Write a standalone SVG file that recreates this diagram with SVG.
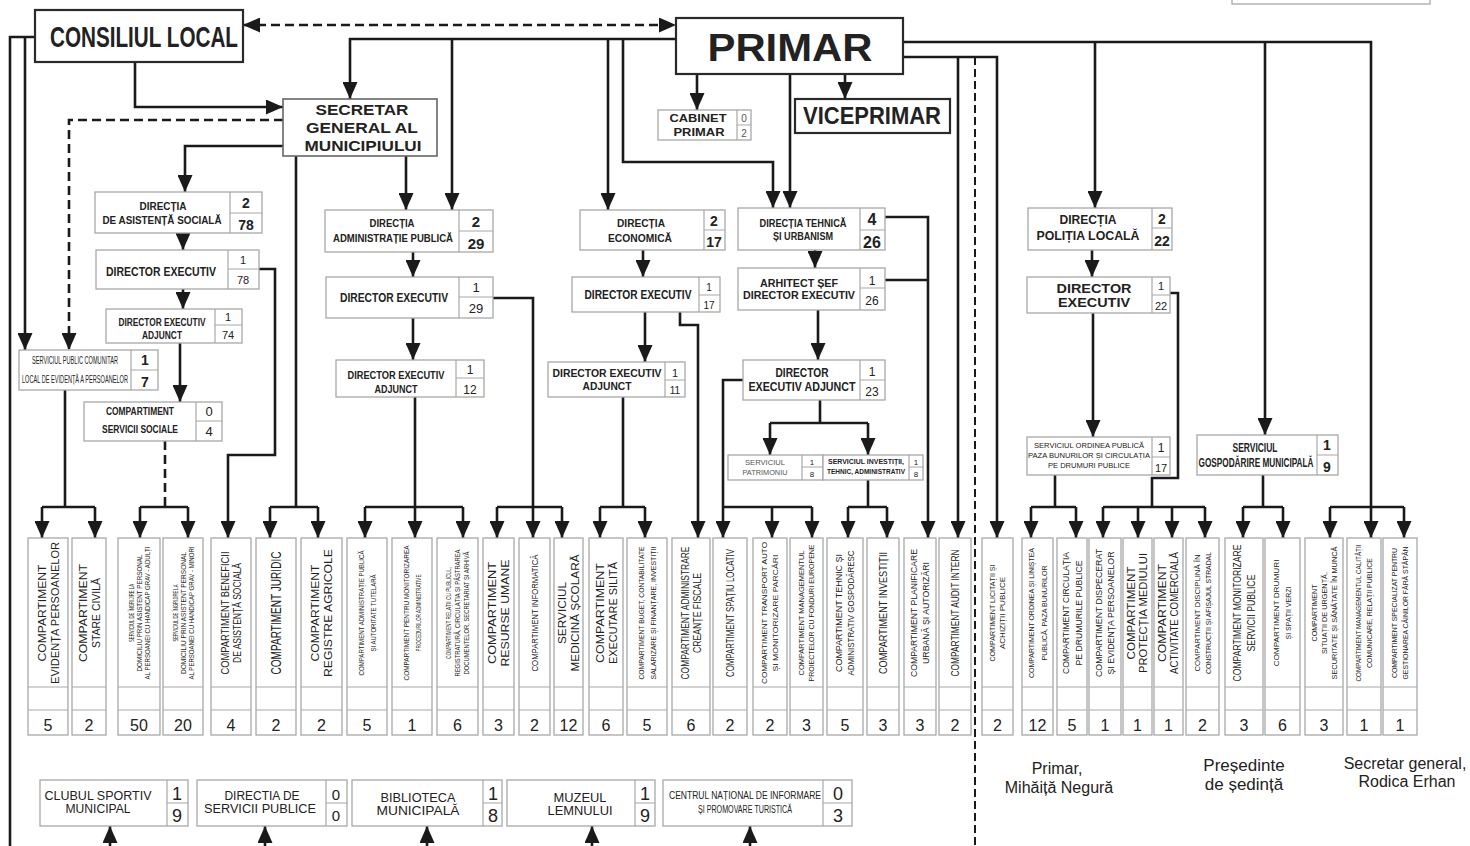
<svg xmlns="http://www.w3.org/2000/svg" width="1470" height="846" viewBox="0 0 1470 846">
<style>
.b{fill:#fff;stroke:#a8a8a8;stroke-width:1.3}
.k{fill:#fff;stroke:#2a2a2a;stroke-width:2.2}
.s{stroke:#a8a8a8;stroke-width:1.2;fill:none}
#connectors path{fill:none;stroke:#1a1a1a;stroke-width:2.6}
#connectors path.d{stroke-dasharray:9 5}
#connectors path.t{stroke-width:2;stroke-dasharray:8 4}
text{font-family:'Liberation Sans',Arial,sans-serif;fill:#222;text-anchor:middle}
.bd{font-weight:bold}
.g{fill:#555}
</style>
<defs>
<marker id="a" viewBox="0 0 17 15" refX="17" refY="7.5" markerWidth="17" markerHeight="15" markerUnits="userSpaceOnUse" orient="auto-start-reverse"><path d="M0,0 L17,7.5 L0,15 z" fill="#1a1a1a"/></marker>
</defs>
<rect width="1470" height="846" fill="#fff"/>
<rect class="b" x="1232" y="-6" width="198" height="10"/>

<g id="connectors">
<path class="d" d="M243,25 H676" marker-start="url(#a)" marker-end="url(#a)"/>
<path d="M676,39 H350 V99" marker-end="url(#a)"/>
<path d="M452,39 V210" marker-end="url(#a)"/>
<path d="M608,39 V210" marker-end="url(#a)"/>
<path d="M623,39 V162 H773 V208" marker-end="url(#a)"/>
<path d="M697,74 V110" marker-end="url(#a)"/>
<path d="M845,74 V99" marker-end="url(#a)"/>
<path d="M790,74 V208" marker-end="url(#a)"/>
<path d="M903,42 H1371 V507"/>
<path d="M1095,42 V208" marker-end="url(#a)"/>
<path d="M1265,42 V435" marker-end="url(#a)"/>
<path d="M903,57 H997 V538" marker-end="url(#a)"/>
<path d="M958,57 V538" marker-end="url(#a)"/>
<path class="t" d="M975,57 V846"/>
<path d="M35,37 H10 V846"/>
<path d="M25,37 V350" marker-end="url(#a)"/>
<path d="M135,62 V107 H283" marker-end="url(#a)"/>
<path class="d" d="M283,120 H69 V350" marker-end="url(#a)"/>
<path d="M283,146 H185 V192" marker-end="url(#a)"/>
<path d="M296,156 V507"/><path d="M270,507 H318"/>
<path d="M270,507 V538" marker-end="url(#a)"/><path d="M318,507 V538" marker-end="url(#a)"/>
<path d="M406,156 V210" marker-end="url(#a)"/>
<path d="M183,233 V250" marker-end="url(#a)"/>
<path d="M183,289 V309" marker-end="url(#a)"/>
<path d="M259,269 H275 V455 H228 V538" marker-end="url(#a)"/>
<path d="M180,343 V402" marker-end="url(#a)"/>
<path d="M65,390 V507"/><path d="M42,507 H95"/>
<path d="M42,507 V538" marker-end="url(#a)"/><path d="M95,507 V538" marker-end="url(#a)"/>
<path class="d" d="M165,441 V507"/><path d="M140,507 H188"/>
<path d="M140,507 V538" marker-end="url(#a)"/><path d="M188,507 V538" marker-end="url(#a)"/>
<path d="M413,252 V277" marker-end="url(#a)"/>
<path d="M413,318 V360" marker-end="url(#a)"/>
<path d="M415,397 V538" marker-end="url(#a)"/><path d="M365,507 H463"/>
<path d="M365,507 V538" marker-end="url(#a)"/><path d="M463,507 V538" marker-end="url(#a)"/>
<path d="M493,298 H533 V538" marker-end="url(#a)"/><path d="M497,507 H562"/>
<path d="M497,507 V538" marker-end="url(#a)"/><path d="M562,507 V538" marker-end="url(#a)"/>
<path d="M643,250 V277" marker-end="url(#a)"/>
<path d="M645,312 V362" marker-end="url(#a)"/>
<path d="M623,397 V507"/><path d="M600,507 H645"/>
<path d="M600,507 V538" marker-end="url(#a)"/><path d="M645,507 V538" marker-end="url(#a)"/>
<path d="M680,312 V325 H698 V538" marker-end="url(#a)"/>
<path d="M885,217 H928 V538" marker-end="url(#a)"/>
<path d="M885,280 H928"/>
<path d="M815,250 V268" marker-end="url(#a)"/>
<path d="M818,310 V360" marker-end="url(#a)"/>
<path d="M820,400 V423"/><path d="M770,423 H868"/>
<path d="M770,423 V455" marker-end="url(#a)"/><path d="M868,423 V455" marker-end="url(#a)"/>
<path d="M743,380 H723 V538" marker-end="url(#a)"/><path d="M723,507 H812"/>
<path d="M772,507 V538" marker-end="url(#a)"/><path d="M812,507 V538" marker-end="url(#a)"/>
<path d="M868,480 V507"/><path d="M848,507 H887"/>
<path d="M848,507 V538" marker-end="url(#a)"/><path d="M887,507 V538" marker-end="url(#a)"/>
<path d="M1092,250 V277" marker-end="url(#a)"/>
<path d="M1093,313 V437" marker-end="url(#a)"/>
<path d="M1055,475 V507"/><path d="M1031,507 H1076"/>
<path d="M1031,507 V538" marker-end="url(#a)"/><path d="M1076,507 V538" marker-end="url(#a)"/>
<path d="M1170,293 H1178 V478 H1152 V507"/><path d="M1103,507 H1205"/>
<path d="M1103,507 V538" marker-end="url(#a)"/><path d="M1138,507 V538" marker-end="url(#a)"/>
<path d="M1172,507 V538" marker-end="url(#a)"/><path d="M1205,507 V538" marker-end="url(#a)"/>
<path d="M1263,475 V507"/><path d="M1243,507 H1283"/>
<path d="M1243,507 V538" marker-end="url(#a)"/><path d="M1283,507 V538" marker-end="url(#a)"/>
<path d="M1330,507 H1404"/>
<path d="M1330,507 V538" marker-end="url(#a)"/><path d="M1371,507 V538" marker-end="url(#a)"/><path d="M1404,507 V538" marker-end="url(#a)"/>
<path d="M110,846 V826" marker-end="url(#a)"/>
<path d="M265,846 V826" marker-end="url(#a)"/>
<path d="M427,846 V826" marker-end="url(#a)"/>
<path d="M592,846 V826" marker-end="url(#a)"/>
<path d="M750,846 V826" marker-end="url(#a)"/>
</g>

<g id="consiliul"><rect class="k" x="35" y="10" width="208" height="52"/>
<text class="bd" x="144" y="47" font-size="30" textLength="188" lengthAdjust="spacingAndGlyphs">CONSILIUL LOCAL</text></g>
<g id="primar"><rect class="k" x="676" y="18" width="227" height="56"/>
<text class="bd" x="790" y="61" font-size="38" textLength="165" lengthAdjust="spacingAndGlyphs">PRIMAR</text></g>
<g id="viceprimar"><rect class="k" x="795" y="99" width="155" height="34"/>
<text class="bd" x="872" y="124" font-size="24" textLength="138" lengthAdjust="spacingAndGlyphs">VICEPRIMAR</text></g>
<g id="cabinet"><rect class="b" x="658" y="110" width="93" height="30"/><path class="s" d="M737,110 V140 M737,125 H751"/>
<text class="bd" x="698" y="122" font-size="11" textLength="57" lengthAdjust="spacingAndGlyphs">CABINET</text>
<text class="bd" x="699" y="136" font-size="11" textLength="51" lengthAdjust="spacingAndGlyphs">PRIMAR</text>
<text class="g" x="744" y="122" font-size="10">0</text><text class="g" x="744" y="137" font-size="10">2</text></g>
<g id="secretar"><rect class="b" x="283" y="99" width="154" height="57" style="stroke:#666;stroke-width:1.6"/>
<text class="bd" x="362" y="115" font-size="15.5" textLength="93" lengthAdjust="spacingAndGlyphs">SECRETAR</text>
<text class="bd" x="362" y="133" font-size="15.5" textLength="112" lengthAdjust="spacingAndGlyphs">GENERAL AL</text>
<text class="bd" x="363" y="151" font-size="15.5" textLength="117" lengthAdjust="spacingAndGlyphs">MUNICIPIULUI</text></g>

<g id="das"><rect class="b" x="95" y="192" width="167" height="41"/><path class="s" d="M230,192 V233 M230,213 H262"/>
<text class="bd" x="163" y="210" font-size="11" textLength="47" lengthAdjust="spacingAndGlyphs">DIRECȚIA</text>
<text class="bd" x="162" y="224" font-size="11" textLength="119" lengthAdjust="spacingAndGlyphs">DE ASISTENȚĂ SOCIALĂ</text>
<text class="bd" x="246" y="208" font-size="14">2</text><text class="bd" x="246" y="230" font-size="14">78</text></g>
<g id="de1"><rect class="b" x="96" y="250" width="163" height="39"/><path class="s" d="M228,250 V289 M228,269 H259"/>
<text class="bd" x="161" y="276" font-size="13" textLength="110" lengthAdjust="spacingAndGlyphs">DIRECTOR EXECUTIV</text>
<text x="243" y="264" font-size="11">1</text><text x="243" y="284" font-size="11">78</text></g>
<g id="dea1"><rect class="b" x="106" y="309" width="136" height="34"/><path class="s" d="M215,309 V343 M215,325 H242"/>
<text class="bd" x="162" y="326" font-size="10" textLength="87" lengthAdjust="spacingAndGlyphs">DIRECTOR EXECUTIV</text>
<text class="bd" x="162" y="339" font-size="10" textLength="40" lengthAdjust="spacingAndGlyphs">ADJUNCT</text>
<text x="228" y="321" font-size="11">1</text><text x="228" y="339" font-size="11">74</text></g>
<g id="spc"><rect class="b" x="19" y="350" width="139" height="40"/><path class="s" d="M131,350 V390 M131,370 H158"/>
<text x="75" y="364" font-size="10" textLength="86" lengthAdjust="spacingAndGlyphs">SERVICIUL PUBLIC COMUNITAR</text>
<text x="75" y="383" font-size="10" textLength="106" lengthAdjust="spacingAndGlyphs">LOCAL DE EVIDENȚĂ A PERSOANELOR</text>
<text class="bd" x="145" y="365" font-size="14">1</text><text class="bd" x="145" y="387" font-size="14">7</text></g>
<g id="css"><rect class="b" x="84" y="402" width="138" height="39"/><path class="s" d="M196,402 V441 M196,421 H222"/>
<text class="bd" x="140" y="415" font-size="11" textLength="68" lengthAdjust="spacingAndGlyphs">COMPARTIMENT</text>
<text class="bd" x="140" y="433" font-size="11" textLength="76" lengthAdjust="spacingAndGlyphs">SERVICII SOCIALE</text>
<text x="209" y="416" font-size="13">0</text><text x="209" y="436" font-size="13">4</text></g>

<g id="dap"><rect class="b" x="325" y="210" width="168" height="42"/><path class="s" d="M459,210 V252 M459,231 H493"/>
<text class="bd" x="392" y="227" font-size="11" textLength="45" lengthAdjust="spacingAndGlyphs">DIRECȚIA</text>
<text class="bd" x="393" y="242" font-size="11" textLength="120" lengthAdjust="spacingAndGlyphs">ADMINISTRAȚIE PUBLICĂ</text>
<text class="bd" x="476" y="227" font-size="15">2</text><text class="bd" x="476" y="249" font-size="15">29</text></g>
<g id="de2"><rect class="b" x="326" y="277" width="167" height="41"/><path class="s" d="M459,277 V318 M459,297 H493"/>
<text class="bd" x="394" y="302" font-size="13" textLength="108" lengthAdjust="spacingAndGlyphs">DIRECTOR EXECUTIV</text>
<text x="476" y="292" font-size="13">1</text><text x="476" y="313" font-size="13">29</text></g>
<g id="dea2"><rect class="b" x="336" y="360" width="148" height="37"/><path class="s" d="M456,360 V397 M456,378 H484"/>
<text class="bd" x="396" y="379" font-size="11" textLength="97" lengthAdjust="spacingAndGlyphs">DIRECTOR EXECUTIV</text>
<text class="bd" x="396" y="393" font-size="11" textLength="43" lengthAdjust="spacingAndGlyphs">ADJUNCT</text>
<text x="470" y="374" font-size="12">1</text><text x="470" y="394" font-size="12">12</text></g>

<g id="dec"><rect class="b" x="580" y="210" width="145" height="40"/><path class="s" d="M704,210 V250 M704,230 H725"/>
<text class="bd" x="641" y="227" font-size="11" textLength="48" lengthAdjust="spacingAndGlyphs">DIRECȚIA</text>
<text class="bd" x="640" y="242" font-size="11" textLength="64" lengthAdjust="spacingAndGlyphs">ECONOMICĂ</text>
<text class="bd" x="714" y="226" font-size="14">2</text><text class="bd" x="714" y="247" font-size="14">17</text></g>
<g id="de3"><rect class="b" x="572" y="277" width="148" height="35"/><path class="s" d="M699,277 V312 M699,295 H720"/>
<text class="bd" x="638" y="299" font-size="12" textLength="107" lengthAdjust="spacingAndGlyphs">DIRECTOR EXECUTIV</text>
<text x="709" y="291" font-size="10">1</text><text x="709" y="309" font-size="10">17</text></g>
<g id="dea3"><rect class="b" x="548" y="362" width="137" height="35"/><path class="s" d="M665,362 V397 M665,380 H685"/>
<text class="bd" x="607" y="377" font-size="11" textLength="109" lengthAdjust="spacingAndGlyphs">DIRECTOR EXECUTIV</text>
<text class="bd" x="607" y="390" font-size="11" textLength="49" lengthAdjust="spacingAndGlyphs">ADJUNCT</text>
<text x="675" y="377" font-size="11">1</text><text x="675" y="394" font-size="10">11</text></g>

<g id="dtu"><rect class="b" x="738" y="208" width="147" height="42"/><path class="s" d="M860,208 V250 M860,230 H885"/>
<text class="bd" x="803" y="227" font-size="11" textLength="87" lengthAdjust="spacingAndGlyphs">DIRECȚIA TEHNICĂ</text>
<text class="bd" x="803" y="240" font-size="11" textLength="60" lengthAdjust="spacingAndGlyphs">ȘI URBANISM</text>
<text class="bd" x="872" y="225" font-size="16">4</text><text class="bd" x="872" y="248" font-size="16">26</text></g>
<g id="asde"><rect class="b" x="738" y="268" width="147" height="42"/><path class="s" d="M860,268 V310 M860,288 H885"/>
<text class="bd" x="799" y="287" font-size="11" textLength="78" lengthAdjust="spacingAndGlyphs">ARHITECT ȘEF</text>
<text class="bd" x="799" y="299" font-size="11" textLength="112" lengthAdjust="spacingAndGlyphs">DIRECTOR EXECUTIV</text>
<text x="872" y="285" font-size="12">1</text><text x="872" y="305" font-size="12">26</text></g>
<g id="dea4"><rect class="b" x="743" y="360" width="142" height="40"/><path class="s" d="M860,360 V400 M860,380 H885"/>
<text class="bd" x="802" y="377" font-size="12" textLength="53" lengthAdjust="spacingAndGlyphs">DIRECTOR</text>
<text class="bd" x="802" y="391" font-size="12" textLength="107" lengthAdjust="spacingAndGlyphs">EXECUTIV ADJUNCT</text>
<text x="872" y="376" font-size="12">1</text><text x="872" y="396" font-size="12">23</text></g>
<g id="spat"><rect class="b" x="728" y="455" width="95" height="25"/><path class="s" d="M802,455 V480 M802,467 H823"/>
<text class="g" x="765" y="465" font-size="8" textLength="40" lengthAdjust="spacingAndGlyphs">SERVICIUL</text>
<text class="g" x="765" y="475" font-size="8" textLength="45" lengthAdjust="spacingAndGlyphs">PATRIMONIU</text>
<text x="812" y="465" font-size="8">1</text><text x="812" y="477" font-size="8">8</text></g>
<g id="sita"><rect class="b" x="823" y="455" width="100" height="25"/><path class="s" d="M909,455 V480 M909,467 H923"/>
<text class="bd" x="866" y="464" font-size="7" textLength="76" lengthAdjust="spacingAndGlyphs">SERVICIUL INVESTIȚII,</text>
<text class="bd" x="866" y="474" font-size="7" textLength="78" lengthAdjust="spacingAndGlyphs">TEHNIC, ADMINISTRATIV</text>
<text x="916" y="465" font-size="8">1</text><text x="916" y="477" font-size="8">8</text></g>

<g id="dpl"><rect class="b" x="1028" y="208" width="144" height="42"/><path class="s" d="M1152,208 V250 M1152,228 H1172"/>
<text class="bd" x="1088" y="224" font-size="13" textLength="57" lengthAdjust="spacingAndGlyphs">DIRECȚIA</text>
<text class="bd" x="1088" y="240" font-size="13" textLength="103" lengthAdjust="spacingAndGlyphs">POLIȚIA LOCALĂ</text>
<text class="bd" x="1162" y="224" font-size="14">2</text><text class="bd" x="1162" y="246" font-size="14">22</text></g>
<g id="de5"><rect class="b" x="1027" y="277" width="143" height="36"/><path class="s" d="M1152,277 V313 M1152,295 H1170"/>
<text class="bd" x="1094" y="293" font-size="13" textLength="75" lengthAdjust="spacingAndGlyphs">DIRECTOR</text>
<text class="bd" x="1094" y="307" font-size="13" textLength="72" lengthAdjust="spacingAndGlyphs">EXECUTIV</text>
<text x="1161" y="290" font-size="11">1</text><text x="1161" y="310" font-size="11">22</text></g>
<g id="sop"><rect class="b" x="1027" y="437" width="143" height="38"/><path class="s" d="M1152,437 V475 M1152,457 H1170"/>
<text x="1089" y="448" font-size="8" textLength="110" lengthAdjust="spacingAndGlyphs">SERVICIUL ORDINEA PUBLICĂ</text>
<text x="1089" y="458" font-size="8" textLength="122" lengthAdjust="spacingAndGlyphs">PAZA BUNURILOR ȘI CIRCULAȚIA</text>
<text x="1089" y="468" font-size="8" textLength="82" lengthAdjust="spacingAndGlyphs">PE DRUMURI PUBLICE</text>
<text x="1161" y="452" font-size="12">1</text><text x="1161" y="472" font-size="11">17</text></g>
<g id="sgm"><rect class="b" x="1197" y="435" width="141" height="40"/><path class="s" d="M1317,435 V475 M1317,455 H1338"/>
<text class="bd" x="1255" y="452" font-size="12" textLength="45" lengthAdjust="spacingAndGlyphs">SERVICIUL</text>
<text class="bd" x="1256" y="467" font-size="12" textLength="115" lengthAdjust="spacingAndGlyphs">GOSPODĂRIRE MUNICIPALĂ</text>
<text class="bd" x="1327" y="450" font-size="14">1</text><text class="bd" x="1327" y="472" font-size="14">9</text></g>

<g id="csm"><rect class="b" x="40" y="780" width="148" height="46"/><path class="s" d="M167,780 V826 M167,803 H188"/>
<text x="98" y="800" font-size="12" textLength="107" lengthAdjust="spacingAndGlyphs">CLUBUL SPORTIV</text>
<text x="98" y="813" font-size="12" textLength="65" lengthAdjust="spacingAndGlyphs">MUNICIPAL</text>
<text x="177" y="800" font-size="18">1</text><text x="177" y="822" font-size="18">9</text></g>
<g id="dsp"><rect class="b" x="197" y="780" width="150" height="46"/><path class="s" d="M326,780 V826 M326,803 H347"/>
<text x="262" y="800" font-size="12" textLength="75" lengthAdjust="spacingAndGlyphs">DIRECTIA DE</text>
<text x="260" y="813" font-size="12" textLength="112" lengthAdjust="spacingAndGlyphs">SERVICII PUBLICE</text>
<text x="336" y="800" font-size="15">0</text><text x="336" y="821" font-size="15">0</text></g>
<g id="bm"><rect class="b" x="352" y="780" width="150" height="46"/><path class="s" d="M483,780 V826 M483,803 H502"/>
<text x="418" y="802" font-size="13" textLength="75" lengthAdjust="spacingAndGlyphs">BIBLIOTECA</text>
<text x="418" y="815" font-size="13" textLength="83" lengthAdjust="spacingAndGlyphs">MUNICIPALĂ</text>
<text x="493" y="800" font-size="18">1</text><text x="493" y="822" font-size="18">8</text></g>
<g id="ml"><rect class="b" x="507" y="780" width="148" height="46"/><path class="s" d="M635,780 V826 M635,803 H655"/>
<text x="580" y="802" font-size="13" textLength="53" lengthAdjust="spacingAndGlyphs">MUZEUL</text>
<text x="580" y="815" font-size="13" textLength="65" lengthAdjust="spacingAndGlyphs">LEMNULUI</text>
<text x="645" y="800" font-size="18">1</text><text x="645" y="822" font-size="18">9</text></g>
<g id="cni"><rect class="b" x="663" y="780" width="189" height="46"/><path class="s" d="M823,780 V826 M823,803 H852"/>
<text x="745" y="799" font-size="10" textLength="152" lengthAdjust="spacingAndGlyphs">CENTRUL NAȚIONAL DE INFORMARE</text>
<text x="745" y="813" font-size="10" textLength="94" lengthAdjust="spacingAndGlyphs">ȘI PROMOVARE TURISTICĂ</text>
<text x="838" y="800" font-size="18">0</text><text x="838" y="822" font-size="18">3</text></g>

<g id="bottom-boxes">
<g id="c1"><rect class="b" x="28" y="538" width="40" height="197"/><path class="s" d="M28,687 H68 M28,710 H68"/>
<text transform="translate(45.6,613) rotate(-90)" font-size="11.5" textLength="97" lengthAdjust="spacingAndGlyphs">COMPARTIMENT</text>
<text transform="translate(58.6,613) rotate(-90)" font-size="11.5" textLength="142" lengthAdjust="spacingAndGlyphs">EVIDENȚA PERSOANELOR</text>
<text x="48" y="731" font-size="16">5</text></g>
<g id="c2"><rect class="b" x="72" y="538" width="34" height="197"/><path class="s" d="M72,687 H106 M72,710 H106"/>
<text transform="translate(86.6,613) rotate(-90)" font-size="11.5" textLength="98" lengthAdjust="spacingAndGlyphs">COMPARTIMENT</text>
<text transform="translate(99.6,613) rotate(-90)" font-size="11.5" textLength="70" lengthAdjust="spacingAndGlyphs">STARE CIVILĂ</text>
<text x="89" y="731" font-size="16">2</text></g>
<g id="c3"><rect class="b" x="118" y="538" width="42" height="197"/><path class="s" d="M118,687 H160 M118,710 H160"/>
<text transform="translate(133.5,613) rotate(-90)" font-size="7" textLength="58" lengthAdjust="spacingAndGlyphs">SERVICIUL DE ÎNGRIJIRE LA</text>
<text transform="translate(141.5,613) rotate(-90)" font-size="7" textLength="117" lengthAdjust="spacingAndGlyphs">DOMICILIU PRIN ASISTENT PERSONAL</text>
<text transform="translate(149.5,613) rotate(-90)" font-size="7" textLength="133" lengthAdjust="spacingAndGlyphs">AL PERSOANEI CU HANDICAP GRAV - ADULȚI</text>
<text x="139" y="731" font-size="16">50</text></g>
<g id="c4"><rect class="b" x="163" y="538" width="40" height="197"/><path class="s" d="M163,687 H203 M163,710 H203"/>
<text transform="translate(177.5,613) rotate(-90)" font-size="7" textLength="57" lengthAdjust="spacingAndGlyphs">SERVICIUL DE ÎNGRIJIRE LA</text>
<text transform="translate(185.5,613) rotate(-90)" font-size="7" textLength="122" lengthAdjust="spacingAndGlyphs">DOMICILIU PRIN ASISTENT PERSONAL</text>
<text transform="translate(193.5,613) rotate(-90)" font-size="7" textLength="133" lengthAdjust="spacingAndGlyphs">AL PERSOANEI CU HANDICAP GRAV - MINORI</text>
<text x="183" y="731" font-size="16">20</text></g>
<g id="c5"><rect class="b" x="211" y="538" width="40" height="197"/><path class="s" d="M211,687 H251 M211,710 H251"/>
<text transform="translate(228.6,613) rotate(-90)" font-size="10" textLength="123" lengthAdjust="spacingAndGlyphs">COMPARTIMENT BENEFICII</text>
<text transform="translate(240.6,613) rotate(-90)" font-size="10" textLength="100" lengthAdjust="spacingAndGlyphs">DE ASISTENȚĂ SOCIALĂ</text>
<text x="231" y="731" font-size="16">4</text></g>
<g id="c6"><rect class="b" x="256" y="538" width="40" height="197"/><path class="s" d="M256,687 H296 M256,710 H296"/>
<text transform="translate(281,613) rotate(-90)" font-size="14" textLength="123" lengthAdjust="spacingAndGlyphs">COMPARTIMENT JURIDIC</text>
<text x="276" y="731" font-size="16">2</text></g>
<g id="c7"><rect class="b" x="301" y="538" width="41" height="197"/><path class="s" d="M301,687 H342 M301,710 H342"/>
<text transform="translate(319.1,613) rotate(-90)" font-size="11.5" textLength="97" lengthAdjust="spacingAndGlyphs">COMPARTIMENT</text>
<text transform="translate(332.1,613) rotate(-90)" font-size="11.5" textLength="128" lengthAdjust="spacingAndGlyphs">REGISTRE AGRICOLE</text>
<text x="321.5" y="731" font-size="16">2</text></g>
<g id="c8"><rect class="b" x="347" y="538" width="40" height="197"/><path class="s" d="M347,687 H387 M347,710 H387"/>
<text transform="translate(363.9,613) rotate(-90)" font-size="8" textLength="125" lengthAdjust="spacingAndGlyphs">COMPARTIMENT ADMINISTRAȚIE PUBLICĂ</text>
<text transform="translate(375.9,613) rotate(-90)" font-size="8" textLength="77" lengthAdjust="spacingAndGlyphs">ȘI AUTORITATE TUTELARĂ</text>
<text x="367" y="731" font-size="16">5</text></g>
<g id="c9"><rect class="b" x="392" y="538" width="40" height="197"/><path class="s" d="M392,687 H432 M392,710 H432"/>
<text transform="translate(408.9,613) rotate(-90)" font-size="8" textLength="135" lengthAdjust="spacingAndGlyphs">COMPARTIMENT PENTRU MONITORIZAREA</text>
<text transform="translate(420.9,613) rotate(-90)" font-size="8" textLength="77" lengthAdjust="spacingAndGlyphs">PROCEDURILOR ADMINISTRATIVE</text>
<text x="412" y="731" font-size="16">1</text></g>
<g id="c10"><rect class="b" x="437" y="538" width="41" height="197"/><path class="s" d="M437,687 H478 M437,710 H478"/>
<text transform="translate(450.8,613) rotate(-90)" font-size="6.5" textLength="92" lengthAdjust="spacingAndGlyphs">COMPARTIMENT RELAȚII CU PUBLICUL,</text>
<text transform="translate(459.8,613) rotate(-90)" font-size="6.5" textLength="127" lengthAdjust="spacingAndGlyphs">REGISTRATURĂ, CIRCULAȚIA ȘI PĂSTRAREA</text>
<text transform="translate(468.8,613) rotate(-90)" font-size="6.5" textLength="123" lengthAdjust="spacingAndGlyphs">DOCUMENTELOR, SECRETARIAT ȘI ARHIVĂ</text>
<text x="457.5" y="731" font-size="16">6</text></g>
<g id="c11"><rect class="b" x="483" y="538" width="31" height="197"/><path class="s" d="M483,687 H514 M483,710 H514"/>
<text transform="translate(496.1,613) rotate(-90)" font-size="11.5" textLength="102" lengthAdjust="spacingAndGlyphs">COMPARTIMENT</text>
<text transform="translate(509.1,613) rotate(-90)" font-size="11.5" textLength="107" lengthAdjust="spacingAndGlyphs">RESURSE UMANE</text>
<text x="498.5" y="731" font-size="16">3</text></g>
<g id="c12"><rect class="b" x="519" y="538" width="31" height="197"/><path class="s" d="M519,687 H550 M519,710 H550"/>
<text transform="translate(537.9,613) rotate(-90)" font-size="9.5" textLength="117" lengthAdjust="spacingAndGlyphs">COMPARTIMENT INFORMATICĂ</text>
<text x="534.5" y="731" font-size="16">2</text></g>
<g id="c13"><rect class="b" x="554" y="538" width="29" height="197"/><path class="s" d="M554,687 H583 M554,710 H583"/>
<text transform="translate(566,613) rotate(-90)" font-size="11" textLength="62" lengthAdjust="spacingAndGlyphs">SERVICIUL</text>
<text transform="translate(579,613) rotate(-90)" font-size="11" textLength="117" lengthAdjust="spacingAndGlyphs">MEDICINĂ ȘCOLARĂ</text>
<text x="568.5" y="731" font-size="16">12</text></g>
<g id="c14"><rect class="b" x="589" y="538" width="34" height="197"/><path class="s" d="M589,687 H623 M589,710 H623"/>
<text transform="translate(603.5,613) rotate(-90)" font-size="11" textLength="100" lengthAdjust="spacingAndGlyphs">COMPARTIMENT</text>
<text transform="translate(616.5,613) rotate(-90)" font-size="11" textLength="102" lengthAdjust="spacingAndGlyphs">EXECUTARE SILITĂ</text>
<text x="606" y="731" font-size="16">6</text></g>
<g id="c15"><rect class="b" x="627" y="538" width="40" height="197"/><path class="s" d="M627,687 H667 M627,710 H667"/>
<text transform="translate(643.9,613) rotate(-90)" font-size="8" textLength="133" lengthAdjust="spacingAndGlyphs">COMPARTIMENT BUGET, CONTABILITATE</text>
<text transform="translate(655.9,613) rotate(-90)" font-size="8" textLength="133" lengthAdjust="spacingAndGlyphs">SALARIZARE ȘI FINANȚARE, INVESTIȚII</text>
<text x="647" y="731" font-size="16">5</text></g>
<g id="c16"><rect class="b" x="672" y="538" width="38" height="197"/><path class="s" d="M672,687 H710 M672,710 H710"/>
<text transform="translate(688.6,613) rotate(-90)" font-size="10" textLength="133" lengthAdjust="spacingAndGlyphs">COMPARTIMENT ADMINISTRARE</text>
<text transform="translate(700.6,613) rotate(-90)" font-size="10" textLength="80" lengthAdjust="spacingAndGlyphs">CREANȚE FISCALE</text>
<text x="691" y="731" font-size="16">6</text></g>
<g id="c17"><rect class="b" x="713" y="538" width="34" height="197"/><path class="s" d="M713,687 H747 M713,710 H747"/>
<text transform="translate(733.6,613) rotate(-90)" font-size="10" textLength="128" lengthAdjust="spacingAndGlyphs">COMPARTIMENT SPAȚIU LOCATIV</text>
<text x="730" y="731" font-size="16">2</text></g>
<g id="c18"><rect class="b" x="753" y="538" width="34" height="197"/><path class="s" d="M753,687 H787 M753,710 H787"/>
<text transform="translate(767.4,613) rotate(-90)" font-size="8" textLength="142" lengthAdjust="spacingAndGlyphs">COMPARTIMENT TRANSPORT AUTO</text>
<text transform="translate(778.4,613) rotate(-90)" font-size="8" textLength="117" lengthAdjust="spacingAndGlyphs">ȘI MONITORIZARE PARCĂRI</text>
<text x="770" y="731" font-size="16">2</text></g>
<g id="c19"><rect class="b" x="790" y="538" width="33" height="197"/><path class="s" d="M790,687 H823 M790,710 H823"/>
<text transform="translate(804,613) rotate(-90)" font-size="7" textLength="125" lengthAdjust="spacingAndGlyphs">COMPARTIMENT MANAGEMENTUL</text>
<text transform="translate(814,613) rotate(-90)" font-size="7" textLength="137" lengthAdjust="spacingAndGlyphs">PROIECTELOR CU FONDURI EUROPENE</text>
<text x="806.5" y="731" font-size="16">3</text></g>
<g id="c20"><rect class="b" x="827" y="538" width="36" height="197"/><path class="s" d="M827,687 H863 M827,710 H863"/>
<text transform="translate(842.2,613) rotate(-90)" font-size="9" textLength="118" lengthAdjust="spacingAndGlyphs">COMPARTIMENT TEHNIC ȘI</text>
<text transform="translate(854.2,613) rotate(-90)" font-size="9" textLength="125" lengthAdjust="spacingAndGlyphs">ADMINISTRATIV GOSPODĂRESC</text>
<text x="845" y="731" font-size="16">5</text></g>
<g id="c21"><rect class="b" x="867" y="538" width="32" height="197"/><path class="s" d="M867,687 H899 M867,710 H899"/>
<text transform="translate(886.6,613) rotate(-90)" font-size="10" textLength="122" lengthAdjust="spacingAndGlyphs">COMPARTIMENT INVESTIȚII</text>
<text x="883" y="731" font-size="16">3</text></g>
<g id="c22"><rect class="b" x="904" y="538" width="32" height="197"/><path class="s" d="M904,687 H936 M904,710 H936"/>
<text transform="translate(917.2,613) rotate(-90)" font-size="9" textLength="128" lengthAdjust="spacingAndGlyphs">COMPARTIMENT PLANIFICARE</text>
<text transform="translate(929.2,613) rotate(-90)" font-size="9" textLength="102" lengthAdjust="spacingAndGlyphs">URBANĂ ȘI AUTORIZĂRI</text>
<text x="920" y="731" font-size="16">3</text></g>
<g id="c23"><rect class="b" x="939" y="538" width="32" height="197"/><path class="s" d="M939,687 H971 M939,710 H971"/>
<text transform="translate(958.6,613) rotate(-90)" font-size="10" textLength="127" lengthAdjust="spacingAndGlyphs">COMPARTIMENT AUDIT INTERN</text>
<text x="955" y="731" font-size="16">2</text></g>
<g id="c24"><rect class="b" x="982" y="538" width="31" height="197"/><path class="s" d="M982,687 H1013 M982,710 H1013"/>
<text transform="translate(995,613) rotate(-90)" font-size="7" textLength="97" lengthAdjust="spacingAndGlyphs">COMPARTIMENT LICITAȚII ȘI</text>
<text transform="translate(1005,613) rotate(-90)" font-size="7" textLength="72" lengthAdjust="spacingAndGlyphs">ACHIZIȚII PUBLICE</text>
<text x="997.5" y="731" font-size="16">2</text></g>
<g id="c25"><rect class="b" x="1022" y="538" width="31" height="197"/><path class="s" d="M1022,687 H1053 M1022,710 H1053"/>
<text transform="translate(1033.9,613) rotate(-90)" font-size="8" textLength="130" lengthAdjust="spacingAndGlyphs">COMPARTIMENT ORDINEA ȘI LINIȘTEA</text>
<text transform="translate(1046.9,613) rotate(-90)" font-size="8" textLength="95" lengthAdjust="spacingAndGlyphs">PUBLICĂ, PAZA BUNURILOR</text>
<text x="1037.5" y="731" font-size="16">12</text></g>
<g id="c26"><rect class="b" x="1057" y="538" width="30" height="197"/><path class="s" d="M1057,687 H1087 M1057,710 H1087"/>
<text transform="translate(1068.7,613) rotate(-90)" font-size="9" textLength="122" lengthAdjust="spacingAndGlyphs">COMPARTIMENT CIRCULAȚIA</text>
<text transform="translate(1081.7,613) rotate(-90)" font-size="9" textLength="105" lengthAdjust="spacingAndGlyphs">PE DRUMURILE PUBLICE</text>
<text x="1072" y="731" font-size="16">5</text></g>
<g id="c27"><rect class="b" x="1089" y="538" width="32" height="197"/><path class="s" d="M1089,687 H1121 M1089,710 H1121"/>
<text transform="translate(1102.2,613) rotate(-90)" font-size="9" textLength="128" lengthAdjust="spacingAndGlyphs">COMPARTIMENT DISPECERAT</text>
<text transform="translate(1114.2,613) rotate(-90)" font-size="9" textLength="123" lengthAdjust="spacingAndGlyphs">ȘI EVIDENȚA PERSOANELOR</text>
<text x="1105" y="731" font-size="16">1</text></g>
<g id="c28"><rect class="b" x="1123" y="538" width="29" height="197"/><path class="s" d="M1123,687 H1152 M1123,710 H1152"/>
<text transform="translate(1135.1,613) rotate(-90)" font-size="10" textLength="93" lengthAdjust="spacingAndGlyphs">COMPARTIMENT</text>
<text transform="translate(1147.1,613) rotate(-90)" font-size="10" textLength="120" lengthAdjust="spacingAndGlyphs">PROTECȚIA MEDIULUI</text>
<text x="1137.5" y="731" font-size="16">1</text></g>
<g id="c29"><rect class="b" x="1154" y="538" width="29" height="197"/><path class="s" d="M1154,687 H1183 M1154,710 H1183"/>
<text transform="translate(1166.1,613) rotate(-90)" font-size="10" textLength="98" lengthAdjust="spacingAndGlyphs">COMPARTIMENT</text>
<text transform="translate(1178.1,613) rotate(-90)" font-size="10" textLength="122" lengthAdjust="spacingAndGlyphs">ACTIVITATE COMERCIALĂ</text>
<text x="1168.5" y="731" font-size="16">1</text></g>
<g id="c30"><rect class="b" x="1186" y="538" width="33" height="197"/><path class="s" d="M1186,687 H1219 M1186,710 H1219"/>
<text transform="translate(1199.7,613) rotate(-90)" font-size="7.5" textLength="117" lengthAdjust="spacingAndGlyphs">COMPARTIMENT DISCIPLINĂ ÎN</text>
<text transform="translate(1210.7,613) rotate(-90)" font-size="7.5" textLength="122" lengthAdjust="spacingAndGlyphs">CONSTRUCȚII ȘI AFIȘAJUL STRADAL</text>
<text x="1202.5" y="731" font-size="16">2</text></g>
<g id="c31"><rect class="b" x="1225" y="538" width="38" height="197"/><path class="s" d="M1225,687 H1263 M1225,710 H1263"/>
<text transform="translate(1240.6,613) rotate(-90)" font-size="10" textLength="137" lengthAdjust="spacingAndGlyphs">COMPARTIMENT MONITORIZARE</text>
<text transform="translate(1254.6,613) rotate(-90)" font-size="10" textLength="77" lengthAdjust="spacingAndGlyphs">SERVICII PUBLICE</text>
<text x="1244" y="731" font-size="16">3</text></g>
<g id="c32"><rect class="b" x="1265" y="538" width="35" height="197"/><path class="s" d="M1265,687 H1300 M1265,710 H1300"/>
<text transform="translate(1279.4,613) rotate(-90)" font-size="8" textLength="107" lengthAdjust="spacingAndGlyphs">COMPARTIMENT DRUMURI</text>
<text transform="translate(1291.4,613) rotate(-90)" font-size="8" textLength="53" lengthAdjust="spacingAndGlyphs">ȘI SPAȚII VERZI</text>
<text x="1282.5" y="731" font-size="16">6</text></g>
<g id="c33"><rect class="b" x="1305" y="538" width="38" height="197"/><path class="s" d="M1305,687 H1343 M1305,710 H1343"/>
<text transform="translate(1316.5,613) rotate(-90)" font-size="7" textLength="57" lengthAdjust="spacingAndGlyphs">COMPARTIMENT</text>
<text transform="translate(1326.5,613) rotate(-90)" font-size="7" textLength="82" lengthAdjust="spacingAndGlyphs">SITUAȚII DE URGENȚĂ,</text>
<text transform="translate(1336.5,613) rotate(-90)" font-size="7" textLength="133" lengthAdjust="spacingAndGlyphs">SECURITATE ȘI SĂNĂTATE ÎN MUNCĂ</text>
<text x="1324" y="731" font-size="16">3</text></g>
<g id="c34"><rect class="b" x="1347" y="538" width="34" height="197"/><path class="s" d="M1347,687 H1381 M1347,710 H1381"/>
<text transform="translate(1361.2,613) rotate(-90)" font-size="7.5" textLength="137" lengthAdjust="spacingAndGlyphs">COMPARTIMENT MANAGEMENTUL CALITĂȚII</text>
<text transform="translate(1372.2,613) rotate(-90)" font-size="7.5" textLength="110" lengthAdjust="spacingAndGlyphs">COMUNICARE, RELAȚII PUBLICE</text>
<text x="1364" y="731" font-size="16">1</text></g>
<g id="c35"><rect class="b" x="1383" y="538" width="34" height="197"/><path class="s" d="M1383,687 H1417 M1383,710 H1417"/>
<text transform="translate(1397.2,613) rotate(-90)" font-size="7.5" textLength="130" lengthAdjust="spacingAndGlyphs">COMPARTIMENT SPECIALIZAT PENTRU</text>
<text transform="translate(1408.2,613) rotate(-90)" font-size="7.5" textLength="133" lengthAdjust="spacingAndGlyphs">GESTIONAREA CÂINILOR FĂRĂ STĂPÂN</text>
<text x="1400" y="731" font-size="16">1</text></g>
</g>

<g id="signatures">
<text x="1057" y="774" font-size="16">Primar,</text>
<text x="1059" y="793" font-size="16">Mihăiță Negură</text>
<text x="1244" y="771" font-size="17">Președinte</text>
<text x="1244" y="790" font-size="17">de ședință</text>
<text x="1405" y="769" font-size="16">Secretar general,</text>
<text x="1407" y="787" font-size="16">Rodica Erhan</text>
</g>
</svg>
